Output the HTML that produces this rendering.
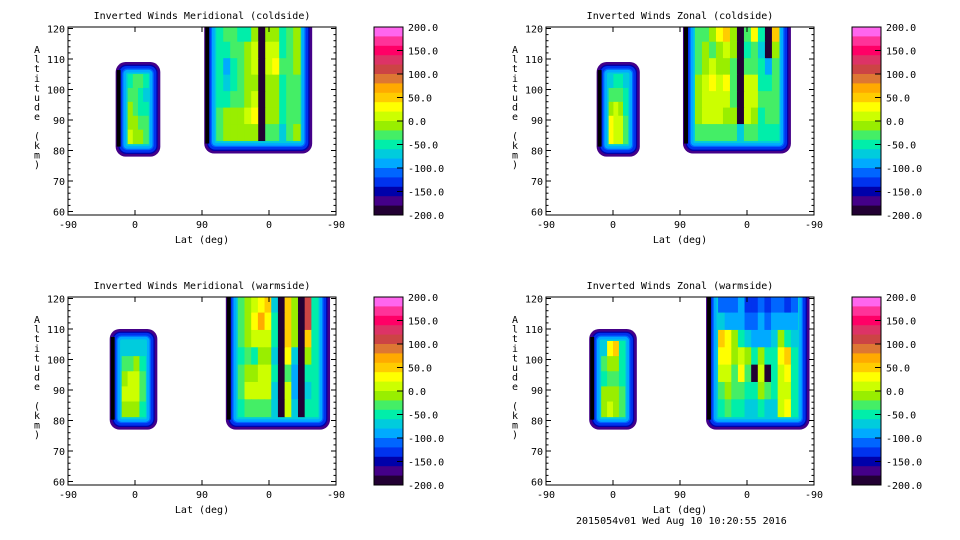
<!DOCTYPE html>
<html><head><meta charset="utf-8"><style>
body{margin:0;background:#fff}
svg{display:block;font-family:"DejaVu Sans Mono","Liberation Mono",monospace}
text{font-size:10px;fill:#000}
</style></head><body>
<svg id="c" width="960" height="540" viewBox="0 0 960 540"></svg>
<script>
const colors=["#ff66ee","#ff3399","#ff0066","#dd3366","#cc4444","#dd7733","#ffaa00","#ffcc00","#ffff00","#ccff00","#99ee00","#44ee66","#00eeaa","#00ccdd","#00aaff","#0066ff","#0033ee","#0000aa","#440088","#220033"];
const titles=["Inverted Winds Meridional (coldside)","Inverted Winds Zonal (coldside)","Inverted Winds Meridional (warmside)","Inverted Winds Zonal (warmside)"];
const xTicks=["-90","0","90","0","-90"];
const yTicks=[60,70,80,90,100,110,120];
const cbTicks=["200.0","150.0","100.0","50.0","0.0","-50.0","-100.0","-150.0","-200.0"];
const blobExtents=[
 [[64,124,109,78],[183,328,125,79]],
 [[68,126,109,78],[184,329,125,79]],
 [[56,120,110,77],[212,352,125,77]],
 [[58,122,110,77],[215,354,125,77]]];
const tlL=[[-50,-20,-30,-50],[-20,-30,-50,-60],[-10,-20,-50,-40],[0,-10,-30,-30],[10,0,-10,-30]];
const tlR=[[-50,-30,-20,-40,-50,-10,-200,0,-10,-50,-30,0],[-40,-50,-30,-20,-10,10,-200,10,20,-40,-20,0],[-50,-80,-40,-20,0,20,-200,10,30,-30,-20,-10],[-50,-70,-40,-20,-10,0,-200,0,0,-40,-20,-20],[-40,-40,-30,-20,0,10,-200,-10,-10,-50,-20,-20],[-20,-10,0,0,10,30,-200,-10,0,-50,-20,-20],[-30,-10,0,0,0,-10,-200,-20,-20,-60,-20,0]];
const trL=[[-70,-50,-50,-60],[-30,-20,-30,-50],[0,10,0,-40],[40,20,10,-30],[40,20,10,-30]];
const trR=[[-30,-20,-10,30,50,0,-200,-20,40,-50,-200,60],[-30,-10,-20,-10,10,-10,-200,-40,-30,-60,-200,-10],[-20,0,20,0,-10,-30,-200,-30,-20,-50,-90,-30],[-10,10,40,10,30,-30,-200,10,20,-40,-40,-30],[0,10,20,10,20,-20,-200,20,10,-30,-30,-30],[0,10,10,10,0,-10,-200,10,0,-40,-30,-30],[-30,-20,-20,-20,-30,-30,-70,-30,-30,-50,-50,-50]];
const blL=[[-70,-60,-60,-70],[-30,-20,-10,-40],[0,10,10,-30],[20,10,10,-30],[-10,0,-10,-40]];
const blR=[[-30,-10,20,40,60,-70,-200,60,0,-200,120,-50],[-20,0,30,70,30,-50,-200,60,0,-200,120,-50],[-30,-10,10,20,10,-50,-200,60,-10,-200,60,-50],[-40,-20,-50,-10,-10,-60,-200,40,-60,-200,-10,-50],[-30,-10,-10,10,20,-50,-200,-30,-90,-200,-50,-50],[-30,10,20,20,20,-60,-200,10,-80,-200,-60,-50],[-50,-30,-20,-30,-30,-60,-200,20,-60,-200,-50,-50]];
const brL=[[-60,40,50,-40],[-30,-10,-10,-40],[-40,-30,-30,-40],[-10,0,-10,-30],[0,10,0,-30]];
const brR=[[-110,-100,-110,-90,-120,-120,-110,-130,-100,-110,-120,-100],[-60,-80,-90,-90,-100,-100,-90,-100,-90,-80,-90,-90],[50,30,-10,-40,-70,-80,-80,-90,-70,-10,-40,-70],[40,30,0,20,-10,-50,-10,-40,-40,30,50,-50],[10,20,-20,30,-30,-200,20,-200,-40,10,40,-50],[-20,0,-30,-20,-50,-50,0,-30,-50,20,20,-50],[-50,-30,-50,-50,-60,-60,-50,-60,-60,20,40,-50]];
const blobVals=[[tlL,tlR],[trL,trR],[blL,blR],[brL,brR]];

const NS="http://www.w3.org/2000/svg";
const svg=document.getElementById('c');
function mk(t,a,p){const e=document.createElementNS(NS,t);for(const k in a)e.setAttribute(k,a[k]);(p||svg).appendChild(e);return e;}
function col(v){let i=Math.floor((200-v)/20);if(i<0)i=0;if(i>19)i=19;return colors[i];}

for(let p=0;p<4;p++){
 const dx=(p%2)*478, dy=Math.floor(p/2)*270;
 const fx=68+dx, fw=268, fy=27+dy, fh=188;
 const X=pos=>fx+pos*fw/360;
 const Y=alt=>28.5+dy+(120-alt)*3.05;
 const g=mk('g',{});
 
 
 const cid='clip'+p;
 const cp=mk('clipPath',{id:cid},g);mk('rect',{x:fx,y:fy,width:fw,height:fh},cp);
 const pl=mk('g',{'clip-path':'url(#'+cid+')'},g);
 
 
 for(let b=0;b<2;b++){
  const [p0,p1,top,bot]=blobExtents[p][b]; const vals=blobVals[p][b];
  const x0=X(p0),x1=X(p1),y0=Y(top),y1=Y(bot);
  const ringV=[-170,-160,-150,-135,-120,-105,-95,-85,-75,-65];
  for(let r=0;r<ringV.length;r++){
   const ins=r*1.3;
   mk('rect',{x:x0+ins,y:y0+ins,width:x1-x0-2*ins,height:y1-y0-2*ins,rx:Math.max(2,10-r),fill:col(ringV[r])},pl);
  }
  const ix0=x0+12,ix1=x1-12,iy0=y0+12,iy1=y1-13;
  const rows=vals.length,cols=vals[0].length;
  const cw=(ix1-ix0)/cols,ch=(iy1-iy0)/rows;
  for(let i=0;i<rows;i++)for(let j=0;j<cols;j++){
   const c=mk('rect',{x:ix0+j*cw,y:iy0+i*ch,width:cw+0.5,height:ch+0.5,fill:col(vals[i][j])},pl);
   
   
  }
  mk('rect',{x:x0+1,y:y0+8,width:4,height:y1-y0-18,fill:'#000'},pl);
 }
 mk('rect',{x:fx,y:fy,width:fw,height:fh,fill:'none',stroke:'#000','stroke-width':1},g);
 for(let k=0;k<5;k++){const x=fx+k*fw/4;
  mk('line',{x1:x,y1:fy+fh,x2:x,y2:fy+fh-5,stroke:'#000'},g);
  mk('line',{x1:x,y1:fy,x2:x,y2:fy+5,stroke:'#000'},g);
  const t=mk('text',{x:x,y:fy+fh+13,'text-anchor':'middle'},g);t.textContent=xTicks[k];}
 for(const a of yTicks){const y=Y(a);
  mk('line',{x1:fx,y1:y,x2:fx+5,y2:y,stroke:'#000'},g);
  mk('line',{x1:fx+fw,y1:y,x2:fx+fw-5,y2:y,stroke:'#000'},g);
  const t=mk('text',{x:fx-3,y:y+4,'text-anchor':'end'},g);t.textContent=a;}
 for(let a=60;a<=120;a+=2){const y=Y(a);
  mk('line',{x1:fx,y1:y,x2:fx+2.5,y2:y,stroke:'#000'},g);
  mk('line',{x1:fx+fw,y1:y,x2:fx+fw-2.5,y2:y,stroke:'#000'},g);}
 const tt=mk('text',{x:fx+fw/2,y:fy-8,'text-anchor':'middle'},g);tt.textContent=titles[p];
 
 const xl=mk('text',{x:fx+fw/2,y:fy+fh+28,'text-anchor':'middle'},g);xl.textContent='Lat (deg)';
 
 const letters="Altitude (km)".split('');
 letters.forEach((ch,i)=>{if(ch===' ')return;const t=mk('text',{x:fx-31,y:fy+26+i*9.6,'text-anchor':'middle'},g);t.textContent=ch;});
 const cx=374+dx,cw=29;
 const cb=mk('g',{},g);
 for(let i=0;i<20;i++)mk('rect',{x:cx,y:fy+i*fh/20,width:cw,height:fh/20+0.4,fill:colors[i]},cb);
 mk('rect',{x:cx,y:fy,width:cw,height:fh,fill:'none',stroke:'#000'},cb);
 cbTicks.forEach((s,i)=>{const y=fy+i*fh/8;
  if(i>0&&i<8)mk('line',{x1:cx+cw-6,y1:y,x2:cx+cw,y2:y,stroke:'#000'},cb);
  const t=mk('text',{x:cx+34,y:y+4},cb);t.textContent=s;});
}
const ft=mk('text',{x:576,y:524});ft.textContent='2015054v01 Wed Aug 10 10:20:55 2016';

</script>
</body></html>
